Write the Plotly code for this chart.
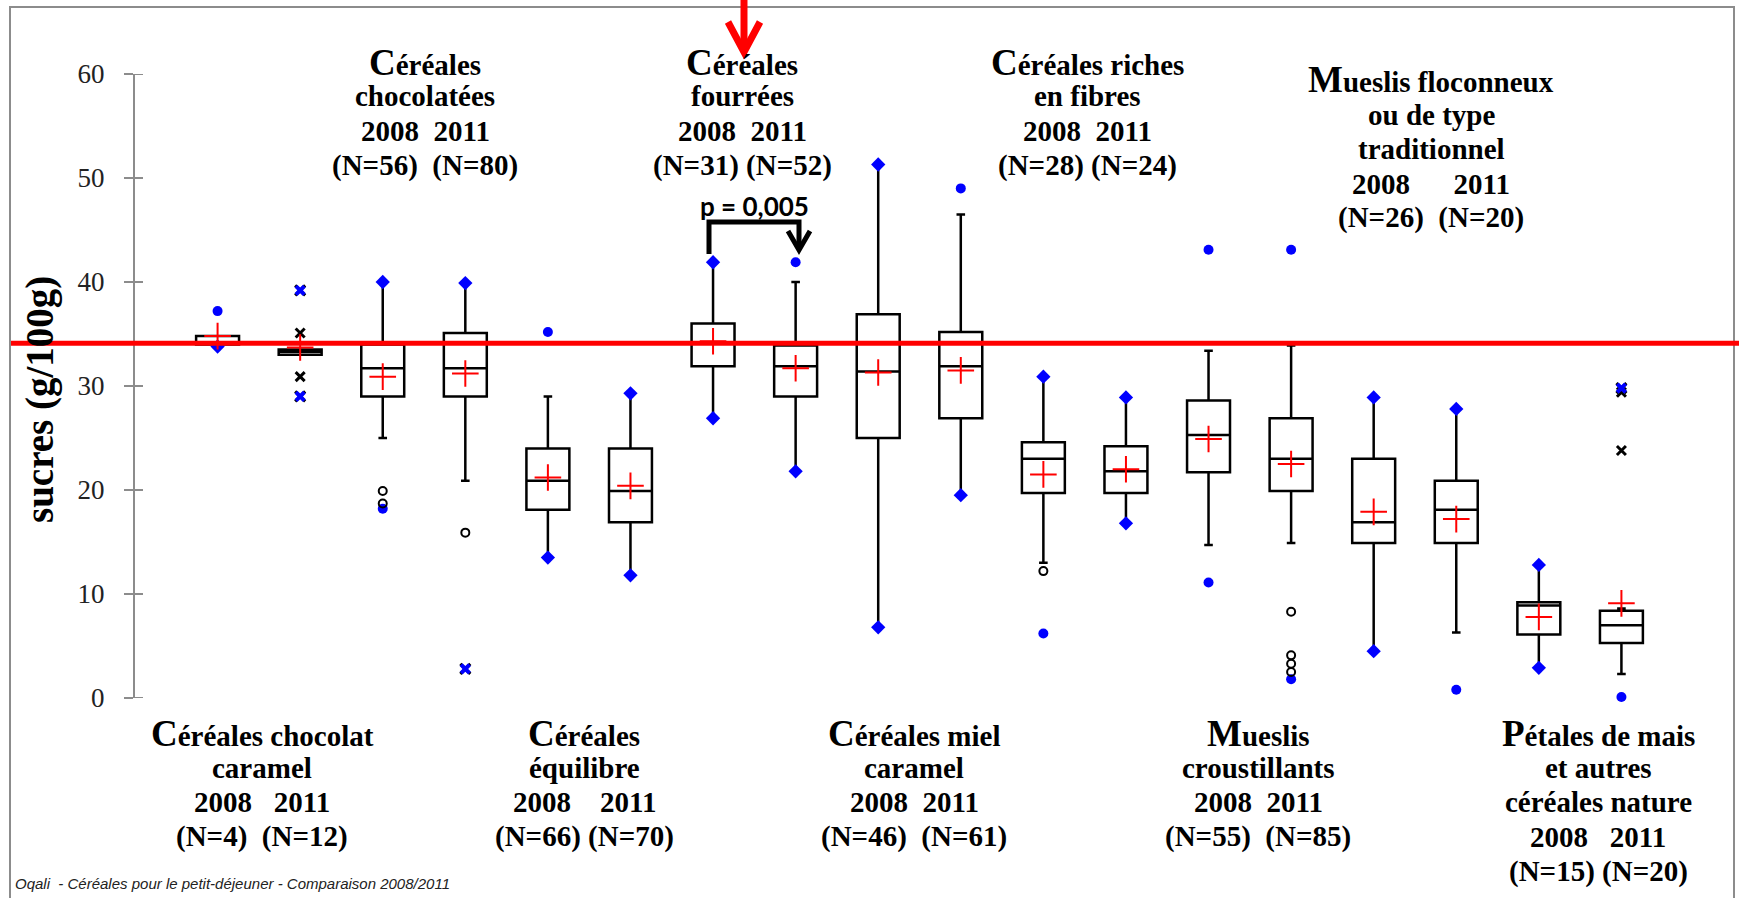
import plotly.graph_objects as go

# ---------------- data ----------------
positions = list(range(1, 19))
lower_whisker = [33.8, 33.0, 25.0, 20.9, 13.5, 11.8, 26.9, 21.8, 6.8, 19.5, 13.0, 16.8, 14.7, 14.9, 4.5, 6.3, 2.9, 2.3]
q1 = [34.0, 33.0, 29.0, 29.0, 18.1, 16.9, 31.9, 29.0, 25.0, 26.9, 19.7, 19.7, 21.7, 19.9, 14.9, 14.9, 6.1, 5.3]
median = [34.2, 33.3, 31.7, 31.7, 20.9, 19.9, 34.1, 31.9, 31.4, 31.9, 23.0, 21.8, 25.3, 23.0, 16.9, 18.1, 8.9, 7.0]
q3 = [34.8, 33.5, 34.0, 35.1, 24.0, 24.0, 36.0, 33.9, 36.9, 35.2, 24.6, 24.2, 28.6, 26.9, 23.0, 20.9, 9.2, 8.4]
upper_whisker = [34.8, 33.5, 40.0, 39.9, 29.0, 29.3, 41.9, 40.0, 51.3, 46.5, 30.9, 28.9, 33.4, 33.9, 28.9, 27.8, 12.8, 8.6]
means = [34.8, 33.7, 30.9, 31.2, 21.2, 20.4, 34.3, 31.7, 31.3, 31.5, 21.5, 22.0, 24.9, 22.5, 17.9, 17.2, 7.8, 9.1]

diamond_pos = [1, 3, 4, 5, 6, 6, 7, 7, 8, 9, 9, 10, 11, 12, 12, 15, 15, 16, 17, 17]
diamond_val = [33.8, 40.0, 39.9, 13.5, 11.8, 29.3, 26.9, 41.9, 21.8, 6.8, 51.3, 19.5, 30.9, 16.8, 28.9, 4.5, 28.9, 27.8, 2.9, 12.8]
dot_pos = [1, 3, 5, 8, 10, 11, 13, 13, 14, 14, 16, 18]
dot_val = [37.2, 18.2, 35.2, 41.9, 49.0, 6.2, 11.1, 43.1, 1.8, 43.1, 0.8, 0.1]
circle_pos = [3, 3, 4, 11, 14, 14, 14, 14]
circle_val = [19.9, 18.7, 15.9, 12.2, 8.3, 4.1, 3.3, 2.5]
cross_pos = [2, 2, 18, 18]
cross_val = [35.1, 30.9, 29.4, 23.8]
star_pos = [2, 2, 4, 18]
star_val = [39.2, 29.0, 2.8, 29.8]

reference_line = 34.1
y_ticks = [0, 10, 20, 30, 40, 50, 60]
y_title = "sucres (g/100g)"
p_value_text = "p = 0,005"
footer_text = "Oqali  - Céréales pour le petit-déjeuner - Comparaison 2008/2011"

top_labels = [
    ["Céréales", "chocolatées", "2008  2011", "(N=56)  (N=80)"],
    ["Céréales", "fourrées", "2008  2011", "(N=31) (N=52)"],
    ["Céréales riches", "en fibres", "2008  2011", "(N=28) (N=24)"],
    ["Mueslis floconneux", "ou de type", "traditionnel", "2008      2011", "(N=26)  (N=20)"],
]
bottom_labels = [
    ["Céréales chocolat", "caramel", "2008   2011", "(N=4)  (N=12)"],
    ["Céréales", "équilibre", "2008    2011", "(N=66) (N=70)"],
    ["Céréales miel", "caramel", "2008  2011", "(N=46)  (N=61)"],
    ["Mueslis", "croustillants", "2008  2011", "(N=55)  (N=85)"],
    ["Pétales de mais", "et autres", "céréales nature", "2008   2011", "(N=15) (N=20)"],
]

# ---------------- layout geometry (pixels) ----------------
W, H = 1739, 898
L, R, T, B = 135, 35, 74, 200
PW = W - L - R
PH = H - T - B


def px(x):
    return (x - L) / PW


def py(y):
    return (H - B - y) / PH


top_cx = [425, 742, 1087, 1431]
top_y0 = [62, 62, 62, 80]
bottom_cx = [262, 584, 914, 1258, 1598]
bottom_y0 = [733, 733, 733, 733, 733]
line_step = 34.5

SERIF = "Liberation Serif"
BLUE = "#0000FF"

fig = go.Figure()

fig.add_trace(go.Box(
    x=positions, q1=q1, median=median, q3=q3,
    lowerfence=lower_whisker, upperfence=upper_whisker,
    width=0.52, whiskerwidth=0.2, fillcolor="white",
    line=dict(color="black", width=2.5), boxpoints=False,
    hoverinfo="skip", showlegend=False,
))

fig.add_trace(go.Scatter(
    x=diamond_pos, y=diamond_val, mode="markers", cliponaxis=False, showlegend=False,
    marker=dict(symbol="diamond", size=11, color=BLUE, line=dict(width=0)),
))
fig.add_trace(go.Scatter(
    x=dot_pos, y=dot_val, mode="markers", cliponaxis=False, showlegend=False,
    marker=dict(symbol="circle", size=10, color=BLUE, line=dict(width=0)),
))
fig.add_trace(go.Scatter(
    x=circle_pos, y=circle_val, mode="markers", cliponaxis=False, showlegend=False,
    marker=dict(symbol="circle-open", size=8, color="black", line=dict(color="black", width=2)),
))
fig.add_trace(go.Scatter(
    x=cross_pos, y=cross_val, mode="markers", cliponaxis=False, showlegend=False,
    marker=dict(symbol="x-thin", size=9, color="black", line=dict(color="black", width=3)),
))
fig.add_trace(go.Scatter(
    x=star_pos, y=star_val, mode="markers", cliponaxis=False, showlegend=False,
    marker=dict(symbol="x-thin", size=10, color="black", line=dict(color="black", width=3)),
))
fig.add_trace(go.Scatter(
    x=star_pos, y=star_val, mode="markers", cliponaxis=False, showlegend=False,
    marker=dict(symbol="x", size=10, color=BLUE, line=dict(width=0)),
))
fig.add_trace(go.Scatter(
    x=positions, y=means, mode="markers", cliponaxis=False, showlegend=False,
    marker=dict(symbol="cross-thin", size=19, color="red", line=dict(color="red", width=2)),
))

annotations = []


def add_label(lines, cx, y0):
    for k, text in enumerate(lines):
        t = text.replace(" ", "\u00a0") if text[0] in "2(" else text
        if k == 0:
            t = "<span style='font-size:37px'>" + t[0] + "</span>" + t[1:]
        annotations.append(dict(
            x=px(cx), y=py(y0 + k * line_step), xref="paper", yref="paper",
            xanchor="center", yanchor="middle", showarrow=False,
            text="<b>" + t + "</b>",
            font=dict(family=SERIF, size=29, color="black"),
        ))


for lines, cx, y0 in zip(top_labels, top_cx, top_y0):
    add_label(lines, cx, y0)
for lines, cx, y0 in zip(bottom_labels, bottom_cx, bottom_y0):
    add_label(lines, cx, y0)

annotations.append(dict(
    x=px(754), y=py(206), xref="paper", yref="paper", xanchor="center", yanchor="middle",
    showarrow=False, text="<b>" + p_value_text + "</b>",
    font=dict(family="Lato", size=26, color="black"),
))
annotations.append(dict(
    x=px(40), y=py(400), xref="paper", yref="paper", xanchor="center", yanchor="middle",
    showarrow=False, textangle=-90, text="<b>" + y_title + "</b>",
    font=dict(family=SERIF, size=39, color="black"),
))
annotations.append(dict(
    x=px(13), y=py(883), xref="paper", yref="paper", xanchor="left", yanchor="middle",
    showarrow=False, text="<i>" + footer_text + "</i>",
    font=dict(family="Liberation Sans", size=15, color="#222222"),
))

shapes = []
# outer frame
shapes.append(dict(type="rect", xref="paper", yref="paper",
                   x0=px(10), x1=px(1734), y0=py(910), y1=py(7),
                   line=dict(color="#8c8c8c", width=2), layer="below"))
# inner half of the y ticks
for v in y_ticks:
    shapes.append(dict(type="line", xref="paper", yref="y", x0=px(135), x1=px(143), y0=v, y1=v,
                       line=dict(color="#8c8c8c", width=2)))
# red reference line
shapes.append(dict(type="line", xref="paper", yref="y", x0=px(11), x1=px(1739),
                   y0=reference_line, y1=reference_line,
                   line=dict(color="red", width=5), layer="above"))
# red arrow at top
shapes.append(dict(type="line", xref="paper", yref="paper", x0=px(744), x1=px(744),
                   y0=py(-5), y1=py(50), line=dict(color="red", width=7)))
shapes.append(dict(type="path", xref="paper", yref="paper",
                   path=f"M {px(728)} {py(22)} L {px(744)} {py(52)} L {px(760)} {py(22)}",
                   line=dict(color="red", width=7)))
# comparison bracket
shapes.append(dict(type="path", xref="paper", yref="paper",
                   path=f"M {px(709)} {py(254)} L {px(709)} {py(222)} L {px(799)} {py(222)} L {px(799)} {py(249)}",
                   line=dict(color="black", width=5)))
shapes.append(dict(type="path", xref="paper", yref="paper",
                   path=f"M {px(788)} {py(231)} L {px(799)} {py(250)} L {px(810)} {py(231)}",
                   line=dict(color="black", width=5)))

fig.update_layout(
    width=W, height=H,
    margin=dict(l=L, r=R, t=T, b=B, pad=0),
    paper_bgcolor="white", plot_bgcolor="white",
    showlegend=False,
    xaxis=dict(range=[0, 19], visible=False),
    yaxis=dict(range=[0, 60], tickvals=y_ticks, showline=True, linecolor="#8c8c8c", linewidth=2,
               ticks="outside", ticklen=9, tickwidth=2, tickcolor="#8c8c8c",
               showgrid=False, zeroline=False, ticklabelstandoff=14,
               tickfont=dict(family=SERIF, size=27, color="#222222")),
    annotations=annotations,
    shapes=shapes,
)

fig.write_html("out.html", post_script="document.body.style.margin='0';",
               config={"displayModeBar": False})
